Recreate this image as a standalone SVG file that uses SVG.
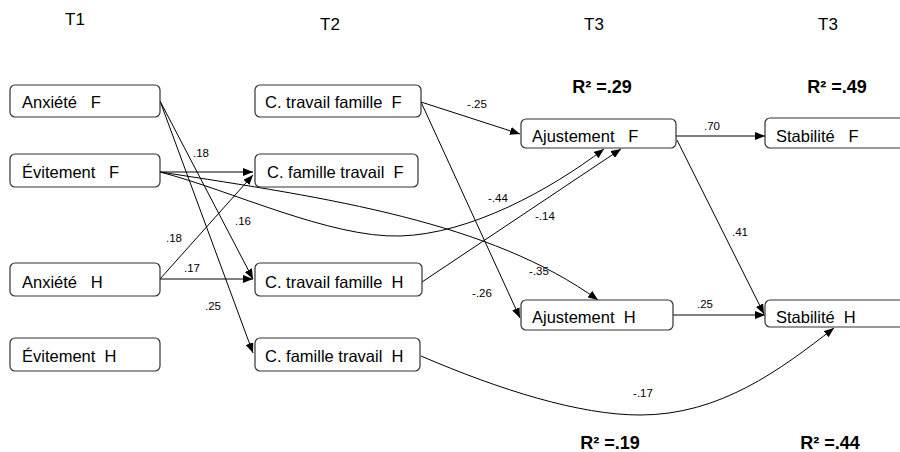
<svg xmlns="http://www.w3.org/2000/svg" width="900" height="452" viewBox="0 0 900 452">
<style>
.box{fill:#fff;stroke:#333;stroke-width:1.2}
.bt{font-family:"Liberation Sans",Arial,sans-serif;font-size:16.5px;fill:#000;white-space:pre}
.hd{font-family:"Liberation Sans",Arial,sans-serif;font-size:17px;fill:#000;text-anchor:middle}
.r2{font-family:"Liberation Sans",Arial,sans-serif;font-size:18px;font-weight:bold;fill:#000;text-anchor:middle}
.el{font-family:"Liberation Sans",Arial,sans-serif;font-size:11.5px;fill:#000;text-anchor:middle}
.c{fill:none;stroke:#000;stroke-width:1;marker-end:url(#ah)}
</style>
<defs>
<marker id="ah" viewBox="0 0 10 8" refX="10" refY="4" markerWidth="10" markerHeight="8" orient="auto" markerUnits="userSpaceOnUse">
<path d="M0,0 L10,4 L0,8 z" fill="#000"/>
</marker>
</defs>
<rect width="900" height="452" fill="#fff"/>
<g id="headers">
<text class="hd" x="75" y="25">T1</text>
<text class="hd" x="330" y="30">T2</text>
<text class="hd" x="594" y="30">T3</text>
<text class="hd" x="828" y="30">T3</text>
<text class="r2" x="602" y="93">R² =.29</text>
<text class="r2" x="837" y="93">R² =.49</text>
<text class="r2" x="610" y="449">R² =.19</text>
<text class="r2" x="830" y="449">R² =.44</text>
</g>
<g id="connectors">
<path class="c" d="M160,101 L253,279"/>
<path class="c" d="M160,101 L253,353"/>
<path class="c" d="M160,172 L253,172"/>
<path class="c" d="M160,172 C230,190 330,238 400,236 C470,234 550,190 604,149"/>
<path class="c" d="M160,172 C330,198 490,222 598,300"/>
<path class="c" d="M160,279 L253,175"/>
<path class="c" d="M160,279 L253,279"/>
<path class="c" d="M421,102 L520,134"/>
<path class="c" d="M421,102 L520,318"/>
<path class="c" d="M422,282 L621,149"/>
<path class="c" d="M421,356 C500,390 580,415 640,415 C720,415 780,370 834,328"/>
<path class="c" d="M676,136 L765,136"/>
<path class="c" d="M677,140 L764,314"/>
<path class="c" d="M673,315 L765,315"/>
<text class="el" x="201" y="157">.18</text>
<text class="el" x="243" y="225">.16</text>
<text class="el" x="174" y="242">.18</text>
<text class="el" x="192" y="272">.17</text>
<text class="el" x="213" y="310">.25</text>
<text class="el" x="477" y="108">-.25</text>
<text class="el" x="498" y="202">-.44</text>
<text class="el" x="545" y="220">-.14</text>
<text class="el" x="539" y="275">-.35</text>
<text class="el" x="482" y="297">-.26</text>
<text class="el" x="712" y="130">.70</text>
<text class="el" x="740" y="236">.41</text>
<text class="el" x="705" y="308">.25</text>
<text class="el" x="643" y="397">-.17</text>
</g>
<g id="anxiete-f"><rect class="box" x="10" y="85" width="150" height="32" rx="5"/><text class="bt" x="22" y="108">Anxiété   F</text></g>
<g id="evitement-f"><rect class="box" x="10" y="154" width="150" height="33" rx="5"/><text class="bt" x="22" y="178">Évitement   F</text></g>
<g id="anxiete-h"><rect class="box" x="10" y="263" width="150" height="33" rx="5"/><text class="bt" x="22" y="288">Anxiété   H</text></g>
<g id="evitement-h"><rect class="box" x="10" y="338" width="150" height="33" rx="5"/><text class="bt" x="22" y="362">Évitement  H</text></g>
<g id="ctf-f"><rect class="box" x="255" y="85" width="166" height="32" rx="5"/><text class="bt" x="265" y="108">C. travail famille  F</text></g>
<g id="cft-f"><rect class="box" x="255" y="154" width="163" height="33" rx="5"/><text class="bt" x="267" y="178">C. famille travail  F</text></g>
<g id="ctf-h"><rect class="box" x="255" y="263" width="167" height="33" rx="5"/><text class="bt" x="265" y="288">C. travail famille  H</text></g>
<g id="cft-h"><rect class="box" x="255" y="338" width="165" height="33" rx="5"/><text class="bt" x="265" y="362">C. famille travail  H</text></g>
<g id="ajustement-f"><rect class="box" x="521" y="119" width="155" height="29" rx="5"/><text class="bt" x="532" y="142">Ajustement   F</text></g>
<g id="ajustement-h"><rect class="box" x="521" y="300" width="152" height="30" rx="5"/><text class="bt" x="532" y="323">Ajustement  H</text></g>
<g id="stabilite-f"><rect class="box" x="765" y="118" width="170" height="30" rx="5"/><text class="bt" x="776" y="142">Stabilité   F</text></g>
<g id="stabilite-h"><rect class="box" x="765" y="300" width="170" height="27" rx="5"/><text class="bt" x="776" y="323">Stabilité  H</text></g>
</svg>
